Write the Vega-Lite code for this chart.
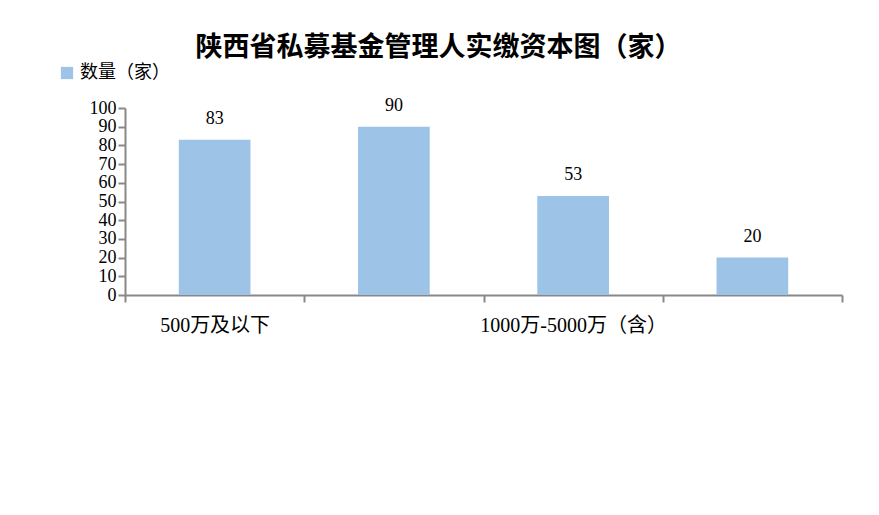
{
  "$schema": "https://vega.github.io/schema/vega-lite/v6.json",
  "autosize": {"type": "none"},
  "padding": {"left": 125, "top": 108, "right": 37, "bottom": 220},
  "width": 717,
  "height": 187,
  "background": "white",
  "title": {
    "text": "陕西省私募基金管理人实缴资本图（家）",
    "font": "Noto Sans CJK SC",
    "fontSize": 27,
    "fontWeight": "bold",
    "color": "black",
    "frame": "group",
    "anchor": "middle",
    "dx": -45,
    "offset": 2
  },
  "data": {
    "values": [
      {"category": "500万及以下", "count": 83, "series": "数量（家）"},
      {"category": "500万-1000万（含）", "count": 90, "series": "数量（家）"},
      {"category": "1000万-5000万（含）", "count": 53, "series": "数量（家）"},
      {"category": "5000万以上", "count": 20, "series": "数量（家）"}
    ]
  },
  "encoding": {
    "x": {
      "field": "category",
      "type": "nominal",
      "sort": null,
      "title": null,
      "scale": {"paddingInner": 0, "paddingOuter": 0},
      "axis": {
        "labelAngle": 0,
        "tickBand": "extent",
        "tickSize": 7,
        "labelPadding": 13,
        "labelFontSize": 20,
        "labelLimit": 0,
        "labelExpr": "datum.value == '500万及以下' || datum.value == '1000万-5000万（含）' ? datum.label : ''"
      }
    },
    "y": {
      "field": "count",
      "type": "quantitative",
      "title": null,
      "scale": {"domain": [0, 100]},
      "axis": {"values": [0, 10, 20, 30, 40, 50, 60, 70, 80, 90, 100], "grid": false, "tickSize": 7, "labelPadding": 2}
    }
  },
  "layer": [
    {
      "mark": {"type": "bar", "width": {"band": 0.4}},
      "encoding": {
        "color": {
          "field": "series",
          "type": "nominal",
          "title": null,
          "scale": {"range": ["#9DC3E6"]},
          "legend": {
            "orient": "none",
            "legendX": -67,
            "legendY": -44,
            "symbolType": "square",
            "symbolSize": 150,
            "labelFont": "Noto Sans CJK SC",
            "labelFontSize": 18,
            "labelColor": "black"
          }
        }
      }
    },
    {
      "mark": {"type": "text", "dy": -21, "font": "Liberation Serif", "fontSize": 18, "color": "black"},
      "encoding": {"text": {"field": "count", "type": "quantitative"}}
    }
  ],
  "config": {
    "view": {"stroke": null},
    "axis": {
      "domainColor": "#888888",
      "domainWidth": 2,
      "tickColor": "#888888",
      "tickWidth": 2,
      "labelFont": "Liberation Serif, Noto Sans CJK SC",
      "labelFontSize": 18,
      "labelColor": "black"
    }
  }
}
